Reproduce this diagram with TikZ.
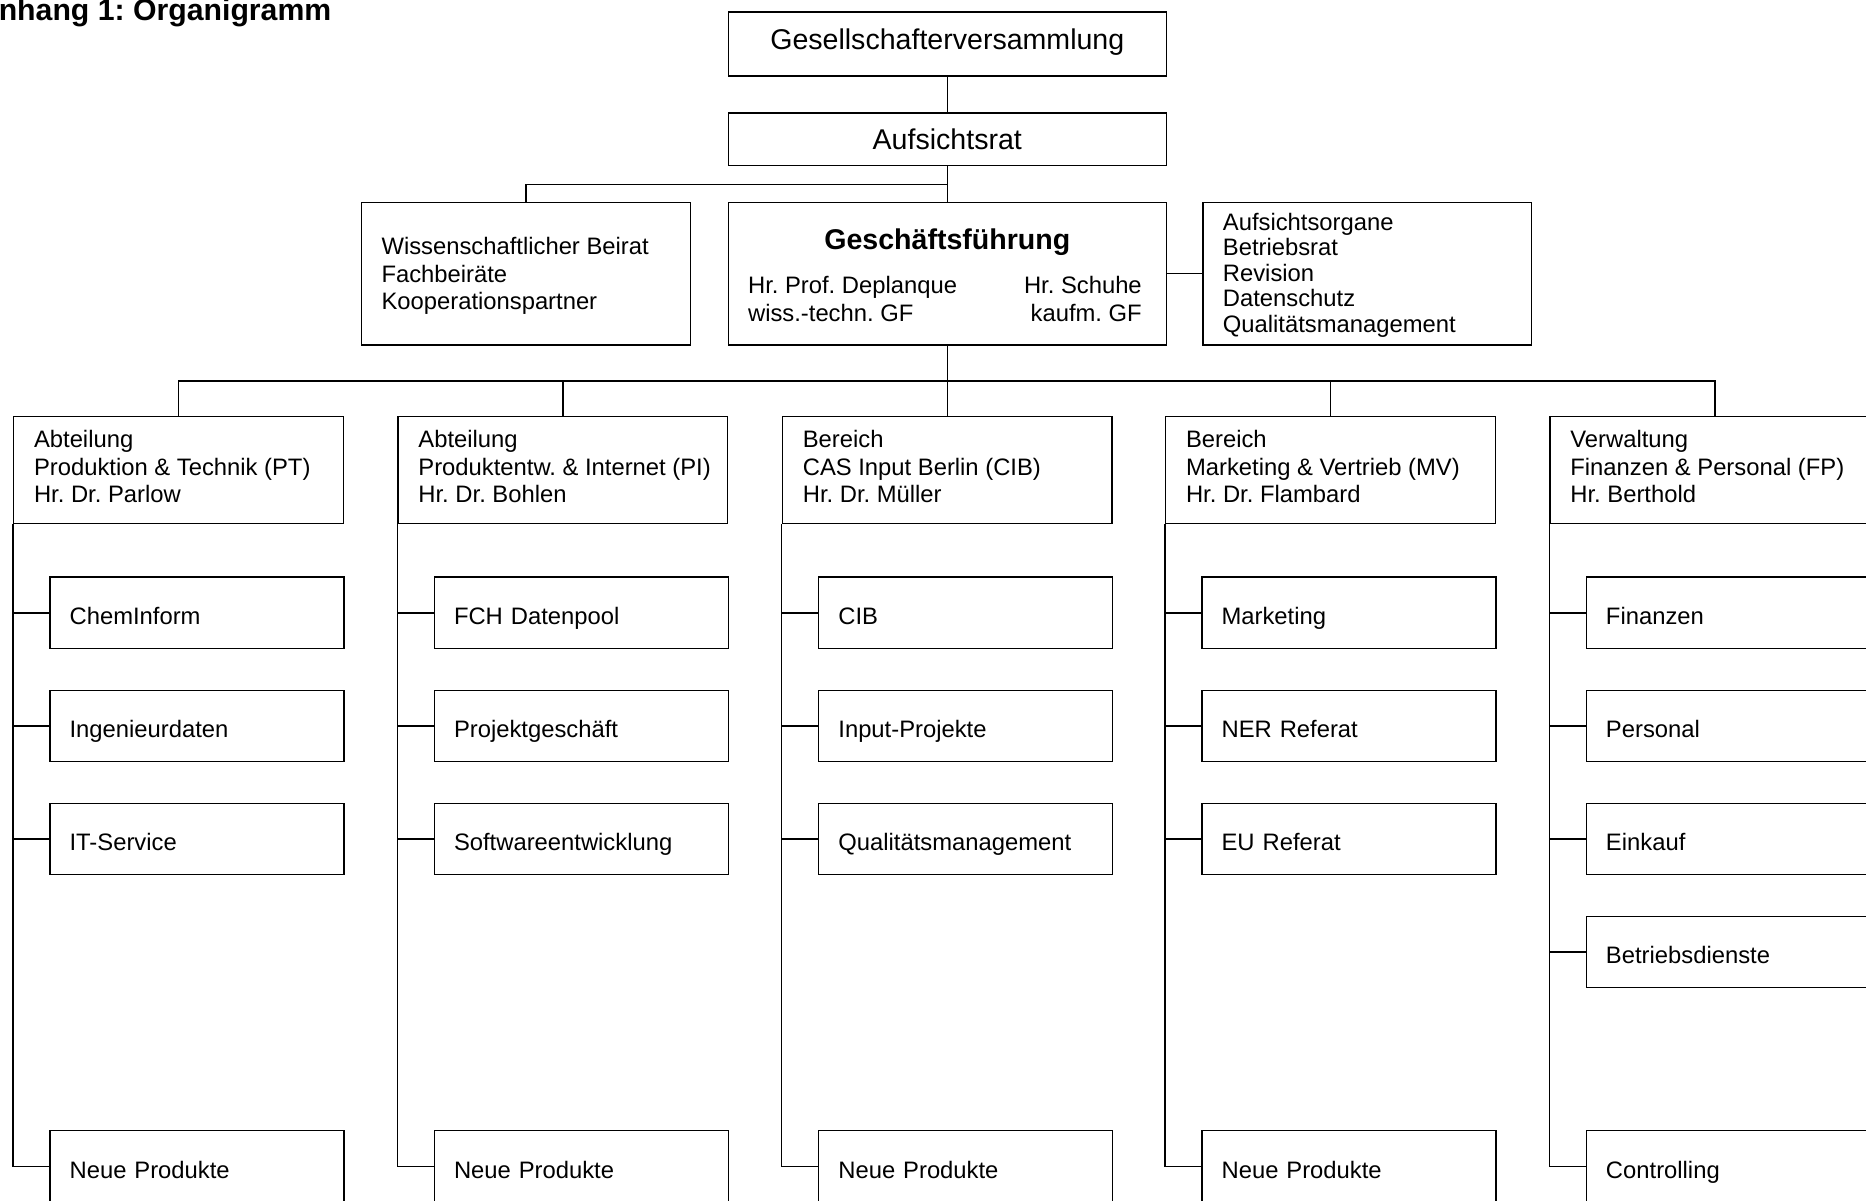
\documentclass[tikz,border=0pt]{standalone}
\usepackage{fontspec}
\setmainfont{Liberation Sans}
\frenchspacing
\usetikzlibrary{positioning}
\begin{document}
\begin{tikzpicture}[x=0.5pt, y=-0.5pt, line width=0.6pt,
  box/.style={rectangle,draw,inner sep=0pt},
  head box/.style={box,minimum width=184pt,font=\fontsize{12}{14}\selectfont},
  side box/.style={box,minimum width=138pt,minimum height=60pt},
  dept box/.style={box,minimum width=138.5pt,minimum height=45pt},
  sub box/.style={box,minimum width=123.5pt,minimum height=30pt,text width=107pt,inner xsep=8.25pt,align=left,text height=12pt,text depth=2pt,font=\fontsize{10}{12}\selectfont},
  list text/.style={anchor=west,align=left,inner sep=0pt,font=\fontsize{10}{11.5}\selectfont}]
\useasboundingbox (0,0) rectangle (1568,1009);
\clip (0,0) rectangle (1568,1009);
\node[anchor=base east,inner sep=0pt,font=\bfseries\fontsize{12.7}{15}\selectfont] (title) at (279,17) {Anhang 1: Organigramm};
% Leitung
\begin{scope}
\node[head box,minimum height=27pt,text depth=4.5pt] (gv) at (796,37) {Gesellschafterversammlung};
\node[head box,minimum height=22pt] (ar) at (796,117) {Aufsichtsrat};
\node[head box,minimum height=60pt] (gf) at (796,230) {};
\node[anchor=base,inner sep=0pt,font=\bfseries\fontsize{12}{14}\selectfont] (gf name) at (796,210) {Geschäftsführung};
\node[list text,font=\fontsize{10}{11.75}\selectfont] (gf left) at (628,251) {Hr. Prof. Deplanque\\wiss.-techn. GF};
\node[list text,anchor=east,align=right,font=\fontsize{10}{11.75}\selectfont] (gf right) at (960,251) {Hr. Schuhe\\kaufm. GF};
\node[side box] (wb) at (442,230) {};
\node[list text] (wb text) at (320,232) {Wissenschaftlicher Beirat\\Fachbeiräte\\Kooperationspartner};
\node[side box] (ao) at (1149,230) {};
\node[list text,font=\fontsize{10}{10.7}\selectfont] (ao text) at (1027,231) {Aufsichtsorgane\\Betriebsrat\\Revision\\Datenschutz\\Qualitätsmanagement};
\end{scope}
% Abteilungen
\begin{scope}
\node[dept box] (pt) at (150,395) {};
\node[dept box] (pi) at (473,395) {};
\node[dept box] (cib) at (796,395) {};
\node[dept box] (mv) at (1118,395) {};
\node[dept box] (fp) at (1441,395) {};
\node[list text] (pt text) at (28,392) {Abteilung\\Produktion \& Technik (PT)\\Hr. Dr. Parlow};
\node[list text] (pi text) at (351,392) {Abteilung\\Produktentw. \& Internet (PI)\\Hr. Dr. Bohlen};
\node[list text] (cib text) at (674,392) {Bereich\\CAS Input Berlin (CIB)\\Hr. Dr. Müller};
\node[list text] (mv text) at (996,392) {Bereich\\Marketing \& Vertrieb (MV)\\Hr. Dr. Flambard};
\node[list text] (fp text) at (1319,392) {Verwaltung\\Finanzen \& Personal (FP)\\Hr. Berthold};
\end{scope}
% Gruppen
\begin{scope}
\node[sub box] (pt1) at (165.5,515) {ChemInform};
\node[sub box] (pt2) at (165.5,610) {Ingenieurdaten};
\node[sub box] (pt3) at (165.5,705) {IT-Service};
\node[sub box] (pt5) at (165.5,980) {Neue Produkte};
\node[sub box] (pi1) at (488.5,515) {FCH Datenpool};
\node[sub box] (pi2) at (488.5,610) {Projektgeschäft};
\node[sub box] (pi3) at (488.5,705) {Softwareentwicklung};
\node[sub box] (pi5) at (488.5,980) {Neue Produkte};
\node[sub box] (cib1) at (811.5,515) {CIB};
\node[sub box] (cib2) at (811.5,610) {Input-Projekte};
\node[sub box] (cib3) at (811.5,705) {Qualitätsmanagement};
\node[sub box] (cib5) at (811.5,980) {Neue Produkte};
\node[sub box] (mv1) at (1133.5,515) {Marketing};
\node[sub box] (mv2) at (1133.5,610) {NER Referat};
\node[sub box] (mv3) at (1133.5,705) {EU Referat};
\node[sub box] (mv5) at (1133.5,980) {Neue Produkte};
\node[sub box] (fp1) at (1456.5,515) {Finanzen};
\node[sub box] (fp2) at (1456.5,610) {Personal};
\node[sub box] (fp3) at (1456.5,705) {Einkauf};
\node[sub box] (fp4) at (1456.5,800) {Betriebsdienste};
\node[sub box] (fp5) at (1456.5,980) {Controlling};
\end{scope}
\coordinate (ar bend) at (796,155);
\coordinate (gf bus) at (796,320);
\begin{scope}
\draw (gv) -- (ar);
\draw (ar) -- (gf);
\draw (ar bend) -| (wb.north);
\draw (gf) -- (ao);
\draw (gf) -- (gf bus);
\draw (gf bus) -| (pt.north);
\draw (gf bus) -| (pi.north);
\draw (gf bus) -| (mv.north);
\draw (gf bus) -| (fp.north);
\draw (gf bus) -- (cib.north);
\draw (pt.south west) |- (pt5.west);
\draw (pt1.west) -- (pt1.west -| pt.west);
\draw (pt2.west) -- (pt2.west -| pt.west);
\draw (pt3.west) -- (pt3.west -| pt.west);
\draw (pi.south west) |- (pi5.west);
\draw (pi1.west) -- (pi1.west -| pi.west);
\draw (pi2.west) -- (pi2.west -| pi.west);
\draw (pi3.west) -- (pi3.west -| pi.west);
\draw (cib.south west) |- (cib5.west);
\draw (cib1.west) -- (cib1.west -| cib.west);
\draw (cib2.west) -- (cib2.west -| cib.west);
\draw (cib3.west) -- (cib3.west -| cib.west);
\draw (mv.south west) |- (mv5.west);
\draw (mv1.west) -- (mv1.west -| mv.west);
\draw (mv2.west) -- (mv2.west -| mv.west);
\draw (mv3.west) -- (mv3.west -| mv.west);
\draw (fp.south west) |- (fp5.west);
\draw (fp1.west) -- (fp1.west -| fp.west);
\draw (fp2.west) -- (fp2.west -| fp.west);
\draw (fp3.west) -- (fp3.west -| fp.west);
\draw (fp4.west) -- (fp4.west -| fp.west);
\end{scope}
\end{tikzpicture}
\end{document}
